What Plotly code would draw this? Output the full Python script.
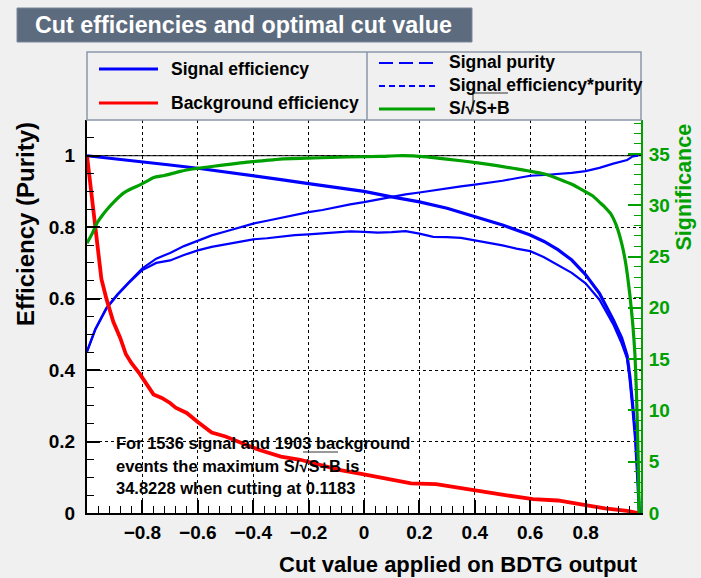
import plotly.graph_objects as go

# ---------------- data ----------------
sig_eff_x = [-1.0, -0.9, -0.8, -0.7, -0.6, -0.5, -0.4, -0.3, -0.2, -0.1, 0.0, 0.1, 0.2, 0.3,
             0.4, 0.5, 0.6, 0.65, 0.7, 0.75, 0.8, 0.85, 0.9, 0.93, 0.95, 0.96, 0.97, 0.98,
             0.988, 0.994]
sig_eff_y = [1.0, 0.992, 0.983, 0.974, 0.965, 0.955, 0.944, 0.933, 0.922, 0.911, 0.900, 0.885,
             0.871, 0.853, 0.830, 0.806, 0.778, 0.760, 0.737, 0.708, 0.667, 0.615, 0.540, 0.490,
             0.440, 0.380, 0.300, 0.210, 0.100, 0.0]

bkg_eff_x = [-1.0, -0.99, -0.98, -0.97, -0.96, -0.948, -0.93, -0.905, -0.88, -0.86, -0.84, -0.81,
             -0.78, -0.76, -0.73, -0.70, -0.68, -0.64, -0.60, -0.55, -0.50, -0.44, -0.38, -0.30,
             -0.23, -0.16, -0.09, 0.0, 0.06, 0.12, 0.17, 0.26, 0.35, 0.42, 0.51, 0.61, 0.70,
             0.80, 0.87, 0.95, 0.99]
bkg_eff_y = [1.0, 0.93, 0.87, 0.80, 0.72, 0.655, 0.60, 0.535, 0.49, 0.445, 0.42, 0.39, 0.355,
             0.332, 0.322, 0.308, 0.295, 0.28, 0.255, 0.225, 0.214, 0.196, 0.177, 0.158, 0.149,
             0.135, 0.121, 0.108, 0.100, 0.092, 0.083, 0.081, 0.069, 0.060, 0.050, 0.039, 0.035,
             0.022, 0.013, 0.006, 0.0]

purity_x = [-1.0, -0.97, -0.93, -0.89, -0.85, -0.8, -0.75, -0.7, -0.65, -0.6, -0.55, -0.5, -0.45,
            -0.4, -0.35, -0.3, -0.25, -0.2, -0.15, -0.1, -0.05, 0.0, 0.05, 0.1, 0.15, 0.2, 0.25,
            0.3, 0.35, 0.4, 0.45, 0.5, 0.55, 0.6, 0.65, 0.7, 0.75, 0.8, 0.85, 0.9, 0.95, 0.97, 0.99]
purity_y = [0.452, 0.515, 0.574, 0.612, 0.645, 0.685, 0.712, 0.728, 0.747, 0.763, 0.777, 0.788,
            0.800, 0.810, 0.818, 0.826, 0.836, 0.842, 0.848, 0.857, 0.864, 0.870, 0.878, 0.885,
            0.892, 0.897, 0.903, 0.910, 0.914, 0.919, 0.924, 0.930, 0.937, 0.944, 0.946, 0.948,
            0.952, 0.957, 0.966, 0.978, 0.988, 0.998, 1.0]

effpur_x = [-1.0, -0.97, -0.93, -0.89, -0.85, -0.8, -0.75, -0.7, -0.65, -0.6, -0.55, -0.5, -0.45,
            -0.4, -0.35, -0.3, -0.25, -0.2, -0.15, -0.1, -0.05, 0.0, 0.05, 0.1, 0.15, 0.2, 0.25,
            0.3, 0.35, 0.4, 0.45, 0.5, 0.55, 0.6, 0.65, 0.7, 0.75, 0.8, 0.85, 0.9, 0.93, 0.95,
            0.96, 0.97, 0.98, 0.988, 0.994]
effpur_y = [0.452, 0.513, 0.572, 0.610, 0.643, 0.680, 0.700, 0.707, 0.722, 0.735, 0.745, 0.752,
            0.760, 0.766, 0.769, 0.774, 0.778, 0.780, 0.783, 0.786, 0.788, 0.787, 0.785, 0.786,
            0.789, 0.782, 0.773, 0.772, 0.770, 0.763, 0.757, 0.749, 0.740, 0.733, 0.716, 0.694,
            0.672, 0.643, 0.597, 0.528, 0.475, 0.432, 0.375, 0.298, 0.210, 0.100, 0.0]

signif_x = [-1.0, -0.98, -0.963, -0.945, -0.927, -0.9, -0.867, -0.84, -0.807, -0.78, -0.759,
            -0.72, -0.663, -0.6, -0.543, -0.48, -0.423, -0.36, -0.303, -0.183, -0.062, 0.058,
            0.118, 0.178, 0.298, 0.418, 0.538, 0.658, 0.754, 0.8, 0.826, 0.85, 0.87, 0.89,
            0.91, 0.93, 0.945, 0.96, 0.97, 0.978, 0.983, 0.987, 0.99, 0.993]
signif_y = [26.3, 27.3, 28.3, 29.0, 29.6, 30.4, 31.2, 31.6, 32.0, 32.4, 32.7, 32.9, 33.3, 33.6,
            33.8, 34.0, 34.2, 34.35, 34.5, 34.6, 34.7, 34.75, 34.82, 34.8, 34.5, 34.1, 33.6,
            33.0, 32.0, 31.3, 30.9, 30.3, 29.8, 29.2, 28.1, 26.3, 24.3, 21.2, 18.5, 15.5, 12.2,
            8.5, 5.0, 0.0]
signif_max = 34.8228

x_tickvals = [-0.8, -0.6, -0.4, -0.2, 0, 0.2, 0.4, 0.6, 0.8]
x_ticktext = ["\u22120.8", "\u22120.6", "\u22120.4", "\u22120.2", "0", "0.2", "0.4", "0.6", "0.8"]
y_tickvals = [0, 0.2, 0.4, 0.6, 0.8, 1.0]
y_ticktext = ["0", "0.2", "0.4", "0.6", "0.8", "1"]
y2_tickvals = [0, 5, 10, 15, 20, 25, 30, 35]

legend_left = ["Signal efficiency", "Background efficiency"]
legend_right = ["Signal purity", "Signal efficiency*purity", "S/\u221aS+B"]
info_lines = ["For 1536 signal and 1903 background",
              "events the maximum S/\u221aS+B is",
              "34.8228 when cutting at 0.1183"]
title_text = "Cut efficiencies and optimal cut value"

# ---------------- styling ----------------
FONT = "Liberation Sans, Arial, Helvetica, sans-serif"
BLUE = "#0000ff"
RED = "#ff0000"
GREEN = "#00a000"
BG = "#f0f0f0"

W, H = 701, 578
L, R, T, B = 87, 641, 120, 513


def fx(px):
    return (px - L) / (R - L)


def fy(py):
    return (B - py) / (B - T)


fig = go.Figure()

fig.add_trace(go.Scatter(x=purity_x, y=purity_y, mode="lines",
                         line=dict(color=BLUE, width=2.2), showlegend=False))
fig.add_trace(go.Scatter(x=effpur_x, y=effpur_y, mode="lines",
                         line=dict(color=BLUE, width=2.2), showlegend=False))
fig.add_trace(go.Scatter(x=sig_eff_x, y=sig_eff_y, mode="lines",
                         line=dict(color=BLUE, width=3.2), showlegend=False))
fig.add_trace(go.Scatter(x=bkg_eff_x, y=bkg_eff_y, mode="lines",
                         line=dict(color=RED, width=3.8), showlegend=False))
fig.add_trace(go.Scatter(x=signif_x, y=signif_y, mode="lines", yaxis="y2",
                         line=dict(color=GREEN, width=3.2, shape="spline", smoothing=0.6),
                         showlegend=False))

shapes = []
annotations = []

# horizontal line at 1
shapes.append(dict(type="line", xref="x", yref="y", x0=-1, x1=1, y0=1, y1=1,
                   line=dict(color="black", width=1), layer="below"))

# title box
shapes.append(dict(type="rect", xref="paper", yref="paper", x0=fx(17), x1=fx(472),
                   y0=fy(42), y1=fy(8), fillcolor="#5d6b7e",
                   line=dict(color="#7c889a", width=1)))
annotations.append(dict(text=title_text, xref="paper", yref="paper", x=fx(33), y=fy(25),
                        xanchor="left", yanchor="middle", showarrow=False,
                        font=dict(family=FONT, size=23.3, color="white", weight="bold")))

# legend box
shapes.append(dict(type="rect", xref="paper", yref="paper", x0=fx(87), x1=fx(641),
                   y0=fy(120), y1=fy(52), fillcolor=BG,
                   line=dict(color="#8a96a8", width=1.5)))
shapes.append(dict(type="line", xref="paper", yref="paper", x0=fx(367), x1=fx(367),
                   y0=fy(120), y1=fy(52), line=dict(color="#8a96a8", width=1.5)))

left_styles = [(BLUE, "solid", 69), (RED, "solid", 103)]
for label, (col, dash, yy) in zip(legend_left, left_styles):
    shapes.append(dict(type="line", xref="paper", yref="paper", x0=fx(99), x1=fx(158),
                       y0=fy(yy), y1=fy(yy), line=dict(color=col, width=3, dash=dash)))
    annotations.append(dict(text=label, xref="paper", yref="paper", x=fx(169), y=fy(yy),
                            xanchor="left", yanchor="middle", showarrow=False,
                            font=dict(family=FONT, size=17.5, color="black", weight="bold")))

right_styles = [(BLUE, "14px,6px", 63, 2), (BLUE, "6px,4px", 86, 2), (GREEN, "solid", 109, 3)]
for label, (col, dash, yy, wd) in zip(legend_right, right_styles):
    shapes.append(dict(type="line", xref="paper", yref="paper", x0=fx(379), x1=fx(435),
                       y0=fy(yy), y1=fy(yy), line=dict(color=col, width=wd, dash=dash)))
    annotations.append(dict(text=label, xref="paper", yref="paper", x=fx(447), y=fy(yy - 1),
                            xanchor="left", yanchor="middle", showarrow=False,
                            font=dict(family=FONT, size=17.5, color="black", weight="bold")))
# sqrt overline artefact in legend
shapes.append(dict(type="line", xref="paper", yref="paper", x0=fx(472), x1=fx(508),
                   y0=fy(93), y1=fy(93), line=dict(color="#333333", width=1)))
shapes.append(dict(type="line", xref="paper", yref="paper", x0=fx(473), x1=fx(473),
                   y0=fy(93), y1=fy(112), line=dict(color="#333333", width=1)))

# info text in plot
for line, yy in zip(info_lines, [443, 466, 488]):
    annotations.append(dict(text=line, xref="paper", yref="paper", x=fx(114), y=fy(yy),
                            xanchor="left", yanchor="middle", showarrow=False,
                            font=dict(family=FONT, size=16.5, color="black", weight="bold")))
shapes.append(dict(type="line", xref="paper", yref="paper", x0=fx(303), x1=fx(338),
                   y0=fy(452), y1=fy(452), line=dict(color="#333333", width=1)))

# axis titles
annotations.append(dict(text="Cut value applied on BDTG output", xref="paper", yref="paper",
                        x=fx(640), y=fy(564), xanchor="right", yanchor="middle",
                        showarrow=False,
                        font=dict(family=FONT, size=22, color="black", weight="bold")))
annotations.append(dict(text="Efficiency (Purity)", xref="paper", yref="paper",
                        x=fx(25), y=fy(120), xanchor="center", yanchor="top", textangle=-90,
                        showarrow=False,
                        font=dict(family=FONT, size=24, color="black", weight="bold")))
annotations.append(dict(text="Significance", xref="paper", yref="paper",
                        x=fx(683), y=fy(122), xanchor="center", yanchor="top", textangle=-90,
                        showarrow=False,
                        font=dict(family=FONT, size=21.5, color=GREEN, weight="bold")))

tickfont = dict(family=FONT, size=19, color="black", weight="bold")

fig.update_layout(
    width=W, height=H,
    margin=dict(l=L, r=W - R, t=T, b=H - B, pad=0),
    paper_bgcolor=BG, plot_bgcolor="white",
    showlegend=False,
    shapes=shapes, annotations=annotations,
    xaxis=dict(range=[-1, 1], tickmode="array", tickvals=x_tickvals, ticktext=x_ticktext,
               ticks="inside", ticklen=13, tickwidth=1.5, tickcolor="black",
               showline=True, linecolor="black", linewidth=2, mirror=False,
               showgrid=True, gridcolor="black", griddash="dot", gridwidth=1,
               zeroline=False, tickfont=tickfont, ticklabelstandoff=1,
               minor=dict(tickmode="linear", tick0=-1, dtick=0.04, ticks="inside",
                          ticklen=7, tickcolor="black", tickwidth=1.2, showgrid=False)),
    yaxis=dict(range=[0, 1.1], tickmode="array", tickvals=y_tickvals, ticktext=y_ticktext,
               ticks="inside", ticklen=13, tickwidth=1.5, tickcolor="black",
               showline=True, linecolor="black", linewidth=2,
               showgrid=True, gridcolor="black", griddash="dot", gridwidth=1,
               zeroline=False, tickfont=tickfont, ticklabelstandoff=6,
               minor=dict(tickmode="linear", tick0=0, dtick=0.05, ticks="inside",
                          ticklen=7, tickcolor="black", tickwidth=1.2, showgrid=False)),
    yaxis2=dict(range=[0, 1.1 * signif_max], overlaying="y", side="right",
                tickmode="array", tickvals=y2_tickvals,
                ticks="inside", ticklen=13, tickwidth=1.5, tickcolor=GREEN,
                showline=True, linecolor=GREEN, linewidth=2, showgrid=False,
                zeroline=False, tickfont=dict(family=FONT, size=19, color=GREEN, weight="bold"),
                ticklabelstandoff=2,
                minor=dict(tickmode="linear", tick0=0, dtick=1, ticks="inside",
                           ticklen=7, tickcolor=GREEN, tickwidth=1.2, showgrid=False)),
)

fig.write_html("out.html")
